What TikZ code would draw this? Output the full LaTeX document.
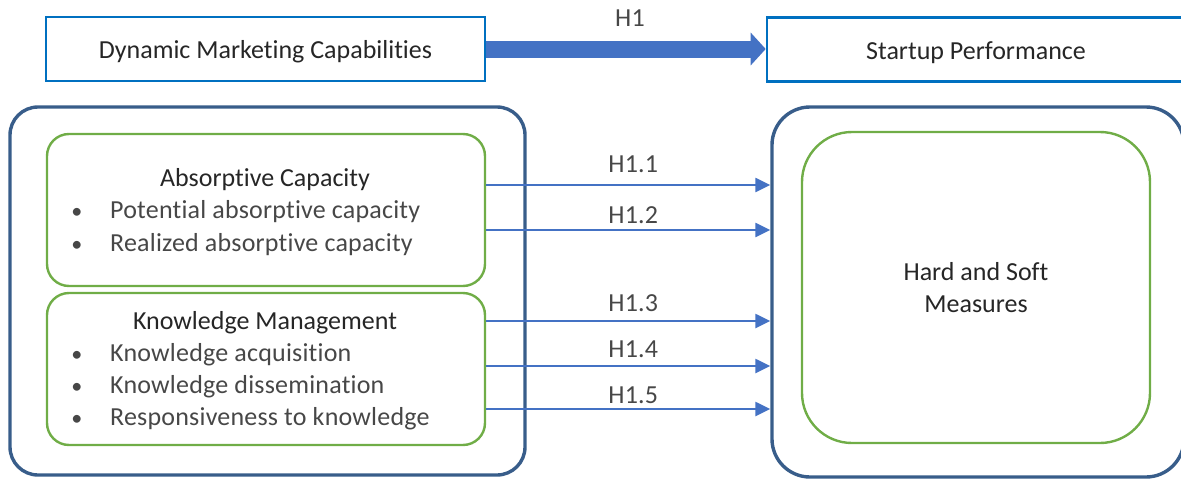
\documentclass[tikz,border=0pt]{standalone}
\usepackage{fontspec}
\setmainfont[Ligatures=NoCommon,RawFeature=-liga]{Carlito}
\newfontfamily\lightfont[Ligatures=NoCommon,RawFeature=-liga,LetterSpace=0.8]{Carlito}
\usetikzlibrary{positioning,arrows.meta}
\definecolor{capblue}{HTML}{0070C0}
\definecolor{frameblue}{HTML}{385D8A}
\definecolor{dimgreen}{HTML}{70AD47}
\definecolor{hypblue}{HTML}{4472C4}
\definecolor{inktext}{HTML}{262626}
\newcommand{\bigfont}{\fontsize{26}{32}\selectfont}
\tikzset{basic/.style={draw,fill=none,text=inktext,font=\bigfont}}
\tikzset{construct/.style={basic,draw=capblue,line width=2.6pt,rectangle,
                           minimum height=64pt,text height=19pt,text depth=0pt}}
\tikzset{frame/.style={basic,draw=frameblue,line width=3.4pt,rectangle}}
\tikzset{dimension/.style={basic,draw=dimgreen,line width=2.4pt,rectangle}}
\tikzset{title/.style={text=inktext,font=\bigfont,inner sep=0pt}}
\tikzset{item/.style={text=inktext!85,font=\lightfont\bigfont,inner sep=0pt}}
\tikzset{lab/.style={text=inktext!85,font=\lightfont\bigfont,inner sep=0pt}}
\tikzset{hyp/.style={draw=hypblue,line width=2.4pt,-{Triangle[length=15pt,width=14pt]}}}

\begin{document}
\begin{tikzpicture}[x=1pt,y=-1pt]
    \useasboundingbox (0,0) rectangle (1181,479);
    % Top level constructs
    \node[construct,minimum width=439pt] (dmc) at (265.5,49) {Dynamic Marketing Capabilities};
    \node[construct,minimum width=418pt] (sp) at (976,49.5) {Startup Performance};
    \draw[hypblue,line width=17pt,-{Triangle[length=15pt,width=32pt]}] (dmc.east)
        -- node[lab,anchor=base,yshift=22pt,xshift=4pt] (h1) {H1} (dmc.east -| sp.west);
    % Outer frames
    \node[frame,rounded corners=28pt,minimum width=515pt,minimum height=368pt] (dmcframe) at (267.5,291) {};
    \node[frame,rounded corners=38pt,minimum width=412pt,minimum height=370pt] (perf) at (978,292) {};
    % Dimensions of dynamic marketing capabilities
    \node[dimension,rounded corners=22pt,minimum width=438pt,minimum height=152pt] (ac) at (266,210) {};
    \node[dimension,rounded corners=22pt,minimum width=438pt,minimum height=152pt] (km) at (266,369) {};
    \node[title,anchor=base] (actitle) at (265,186) {Absorptive Capacity};
    \node[title,anchor=base] (kmtitle) at (265,329) {Knowledge Management};
    \foreach \t [count=\i] in {Potential absorptive capacity,Realized absorptive capacity}{%
          \node[item,anchor=base,scale=0.85] (acdot\i) at (77,186+\i*32.5) {\textbullet};
          \node[item,anchor=base west] (acitem\i) at (110,186+\i*32.5) {\t};
        }
    \foreach \t [count=\i] in {Knowledge acquisition,Knowledge dissemination,Responsiveness to knowledge}{%
          \node[item,anchor=base,scale=0.85] (kmdot\i) at (77,329+\i*32) {\textbullet};
          \node[item,anchor=base west] (kmitem\i) at (110,329+\i*32) {\t};
        }
    % Performance measures
    \node[dimension,rounded corners=50pt,minimum width=348pt,minimum height=311pt,align=center]
        (hsm) at (976,287.5) {Hard and Soft\\Measures};
    % Hypotheses
    \foreach \src/\dy/\gap [count=\i] in {ac/25/13,ac/-20/7,km/48/10,km/3/9,km/-40/6}{%
          \coordinate (start\i) at ([yshift=\dy pt]\src.east);
          \draw[hyp] (start\i) -- node[lab,anchor=base,yshift=\gap pt,xshift=5pt] (hl\i) {H1.\i}
              (start\i -| perf.west);
        }
\end{tikzpicture}
\end{document}
